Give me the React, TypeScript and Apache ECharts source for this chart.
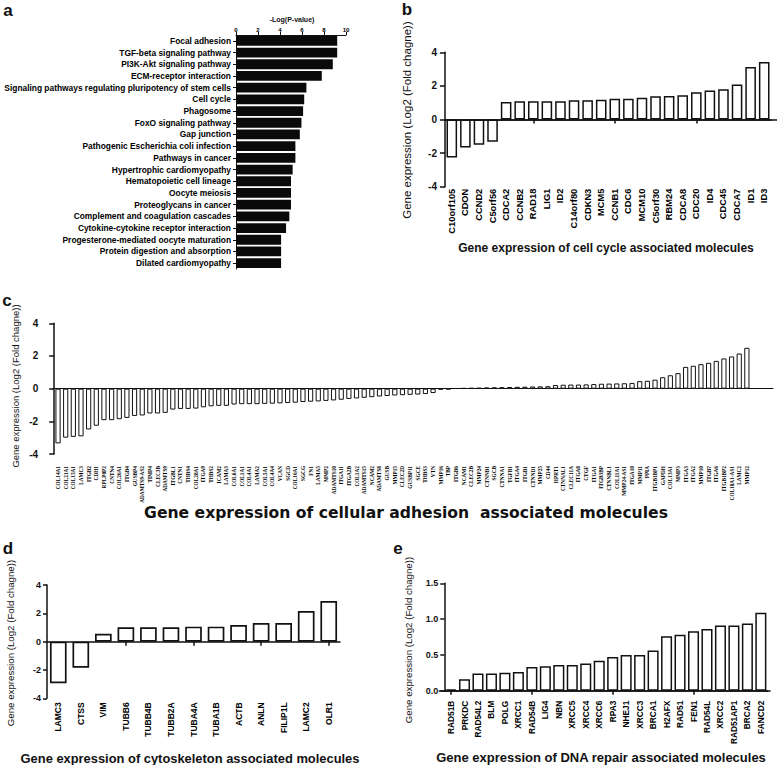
import React, { useEffect, useRef } from "react";
import * as echarts from "echarts";

const pathwayNames = [
  "Focal adhesion",
  "TGF-beta signaling pathway",
  "PI3K-Akt signaling pathway",
  "ECM-receptor interaction",
  "Signaling pathways regulating pluripotency of stem cells",
  "Cell cycle",
  "Phagosome",
  "FoxO signaling pathway",
  "Gap junction",
  "Pathogenic Escherichia coli infection",
  "Pathways in cancer",
  "Hypertrophic cardiomyopathy",
  "Hematopoietic cell lineage",
  "Oocyte meiosis",
  "Proteoglycans in cancer",
  "Complement and coagulation cascades",
  "Cytokine-cytokine receptor interaction",
  "Progesterone-mediated oocyte maturation",
  "Protein digestion and absorption",
  "Dilated cardiomyopathy",
];
const pathwayValues = [9.2, 9.2, 8.8, 7.8, 6.4, 6.2, 6.1, 5.95, 5.8, 5.4, 5.4, 5.15, 5.0, 5.0, 5.0, 4.85, 4.55, 4.1, 4.1, 4.1];
const pathwayTicks = [0, 2, 4, 6, 8, 10];

const cellCycleGenes = [
  "C10orf105", "CDON", "CCND2", "C5orf56", "CDCA2", "CCNB2", "RAD18", "LIG1", "ID2", "C14orf80", "CDKN3", "MCM5",
  "CCNB1", "CDC6", "MCM10", "C5orf30", "RBM24", "CDCA8", "CDC20", "ID4", "CDC45", "CDCA7", "ID1", "ID3",
];
const cellCycleValues = [
  -2.26, -1.66, -1.5, -1.32, 1.04, 1.08, 1.08, 1.08, 1.08, 1.14, 1.14, 1.18,
  1.24, 1.24, 1.3, 1.38, 1.4, 1.44, 1.62, 1.72, 1.8, 2.08, 3.13, 3.43,
];

const adhesionGenes = [
  "COL14A1", "COL21A1", "COL15A1", "LAMC3", "ITGB2", "CDH1", "RPLP0P2", "CNTN4", "COL26A1", "ITGB4",
  "GUSBP4", "ADAMTS9-AS2", "TIMP4", "CLEC3B", "ADAMTS9", "ITGBL1", "CNTN1", "THBS4", "COL28A1", "ITGA9",
  "THBS2", "ICAM2", "LAMA3", "COL6A1", "COL1A1", "COL4A1", "LAMA2", "COL5A1", "COL4A4", "VCAN",
  "SGCD", "COL16A1", "SGCG", "FN1", "LAMA5", "MMP2", "ADAMTS10", "ITGA11", "ITGA2B", "COL1A2",
  "ADAMTS15", "NCAM2", "ADAMTS8", "GUSB", "MMP15", "CLEC2D", "GUSBP11", "SGCE", "THBS3", "VTN",
  "MMP16", "TBP", "ITGB6", "NCAM1", "CLEC2B", "MMP24", "CTNNB1", "SGCB", "CTNNA1", "TGFB1",
  "ITGA4", "ITGB1", "CTNND1", "MMP25", "CD44", "HPRT1", "CTNNAL1", "CLEC11A", "ITGA8", "CTGF",
  "ITGA1", "ITGB3BP", "CTNNBL1", "COL11A1", "MMP24-AS1", "ITGA10", "MMP11", "PPIA", "ITGB1BP1", "GAPDH",
  "COL13A1", "MMP3", "ITGA3", "ITGA2", "MMP10", "ITGB7", "ITGA6", "ITGB1BP2", "COL18A1-AS1", "LAMC2", "MMP12",
];
const adhesionValues = [
  -3.35, -3.0, -2.95, -2.92, -2.5, -2.27, -1.93, -1.93, -1.87, -1.79,
  -1.67, -1.64, -1.52, -1.52, -1.48, -1.28, -1.24, -1.24, -1.22, -1.14,
  -1.08, -1.05, -1.05, -0.97, -0.95, -0.95, -0.95, -0.93, -0.92, -0.9,
  -0.88, -0.86, -0.82, -0.8, -0.78, -0.75, -0.72, -0.68, -0.63, -0.6,
  -0.56, -0.52, -0.48, -0.45, -0.42, -0.4, -0.38, -0.36, -0.33, -0.27,
  -0.06, -0.04, 0.02, 0.03, 0.04, 0.05, 0.07, 0.08, 0.09, 0.1,
  0.11, 0.12, 0.13, 0.14, 0.15, 0.22, 0.24, 0.25, 0.25, 0.26,
  0.28, 0.3, 0.31, 0.32, 0.33, 0.35, 0.46, 0.48, 0.55, 0.7,
  0.82, 0.95, 1.33, 1.4, 1.5, 1.58, 1.7, 1.85, 1.97, 2.15, 2.5,
];

const cytoGenes = ["LAMC3", "CTSS", "VIM", "TUBB6", "TUBB4B", "TUBB2A", "TUBA4A", "TUBA1B", "ACTB", "ANLN", "FILIP1L", "LAMC2", "OLR1"];
const cytoValues = [-2.94, -1.84, 0.56, 1.01, 1.01, 1.01, 1.06, 1.06, 1.18, 1.32, 1.32, 2.16, 2.87];

const dnaGenes = [
  "RAD51B", "PRKDC", "RAD54L2", "BLM", "POLG", "XRCC1", "RAD54B", "LIG4", "NBN", "XRCC5", "XRCC4", "XRCC6",
  "RPA3", "NHEJ1", "XRCC3", "BRCA1", "H2AFX", "RAD51", "FEN1", "RAD54L", "XRCC2", "RAD51AP1", "BRCA2", "FANCD2",
];
const dnaValues = [
  0.02, 0.16, 0.24, 0.24, 0.25, 0.26, 0.33, 0.34, 0.36, 0.36, 0.38, 0.42,
  0.47, 0.5, 0.5, 0.56, 0.76, 0.78, 0.83, 0.86, 0.91, 0.91, 0.94, 1.09,
];

const yTitle = "Gene expression (Log2 (Fold chagne))";
const titleB = "Gene expression of cell cycle associated molecules";
const titleC = "Gene expression of cellular adhesion  associated molecules";
const titleD = "Gene expression of cytoskeleton associated molecules";
const titleE = "Gene expression of DNA repair associated molecules";
const pathwayAxisTitle = "-Log(P-value)";

const SANS = "'Liberation Sans', Arial, Helvetica, sans-serif";
const WIDE = "'DejaVu Sans', Verdana, sans-serif";
const SERIF = "'Liberation Serif', 'Times New Roman', serif";
const INK = "#111111";

function yValueAxis(gridIndex: number, min: number, max: number, interval: number, fontSize: number, margin: number, tickLen: number, lw: number, formatter?: (v: number) => string) {
  return {
    gridIndex,
    type: "value",
    min,
    max,
    interval,
    axisLine: { show: true, onZero: false, lineStyle: { color: INK, width: lw } },
    axisTick: { show: true, length: tickLen, lineStyle: { color: INK, width: lw } },
    axisLabel: { color: INK, fontFamily: SANS, fontWeight: "bold", fontSize, margin, formatter },
    splitLine: { show: false },
  };
}
function hiddenY(gridIndex: number, min: number, max: number) {
  return { gridIndex, type: "value", min, max, show: false, splitLine: { show: false } };
}
function zeroAxis(gridIndex: number, data: string[], tick: boolean, lw: number) {
  return {
    gridIndex,
    type: "category",
    data,
    position: "bottom",
    axisLine: { show: true, onZero: true, lineStyle: { color: INK, width: lw } },
    axisTick: { show: tick, alignWithLabel: true, length: 4, lineStyle: { color: INK, width: lw } },
    axisLabel: { show: false },
    splitLine: { show: false },
  };
}
function labelAxis(gridIndex: number, data: string[], fontSize: number, margin: number, family: string, weight: string) {
  return {
    gridIndex,
    type: "category",
    data,
    position: "bottom",
    axisLine: { show: false, onZero: false },
    axisTick: { show: false },
    axisLabel: { color: "#000000", fontFamily: family, fontWeight: weight, fontSize, margin, rotate: 90, interval: 0 },
    splitLine: { show: false },
  };
}
function lineAxis(gridIndex: number, lw: number) {
  return {
    gridIndex,
    type: "value",
    min: 0,
    max: 1,
    position: "bottom",
    axisLine: { show: true, onZero: true, lineStyle: { color: INK, width: lw } },
    axisTick: { show: false },
    axisLabel: { show: false },
    splitLine: { show: false },
  };
}
function hollow(bw: number) {
  return { color: "#ffffff", borderColor: INK, borderWidth: bw };
}
function txt(text: string, x: number, y: number, fontSize: number, weight: string, rotation = 0, family = SANS) {
  return {
    type: "text",
    x,
    y,
    rotation,
    silent: true,
    style: {
      text,
      fontSize,
      fontWeight: weight,
      fontFamily: family,
      fill: INK,
      textAlign: "center",
      textVerticalAlign: "middle",
      align: "center",
      verticalAlign: "middle",
    },
  };
}

function buildOption() {
  const grids = [
    { left: 236, top: 35, width: 110, height: 234 }, // 0 a
    { left: 445, top: 52.3, width: 326, height: 134.4 }, // 1 b
    { left: 445, top: 52.3, width: 332, height: 134.4 }, // 2 b line
    { left: 54.2, top: 323.3, width: 696.5, height: 130.7 }, // 3 c
    { left: 53, top: 323.3, width: 720, height: 130.7 }, // 4 c line
    { left: 47, top: 585, width: 293, height: 113.3 }, // 5 d
    { left: 444.3, top: 583.3, width: 323.3, height: 107.4 }, // 6 e
    { left: 439.3, top: 583.3, width: 330.7, height: 107.4 }, // 7 e line
  ];
  const xAxes = [
    {
      gridIndex: 0,
      type: "value",
      position: "top",
      min: pathwayTicks[0],
      max: pathwayTicks[pathwayTicks.length - 1],
      interval: 2,
      axisLine: { show: true, lineStyle: { color: INK, width: 1 } },
      axisTick: { show: true, length: 3, lineStyle: { color: INK } },
      axisLabel: { color: "#000000", fontFamily: SANS, fontWeight: "bold", fontSize: 6, margin: 2 },
      splitLine: { show: false },
    },
    zeroAxis(1, cellCycleGenes, true, 1.5), // 1
    labelAxis(1, cellCycleGenes, 9.3, 2, SANS, "bold"), // 2
    lineAxis(2, 1.5), // 3
    zeroAxis(3, adhesionGenes, false, 1.2), // 4
    labelAxis(3, adhesionGenes, 5.3, 12, SERIF, "bold"), // 5
    lineAxis(4, 1.2), // 6
    zeroAxis(5, cytoGenes, true, 1.5), // 7
    labelAxis(5, cytoGenes, 8.5, 4, SANS, "bold"), // 8
    zeroAxis(6, dnaGenes, true, 1.5), // 9
    labelAxis(6, dnaGenes, 8.3, 10, SANS, "bold"), // 10
    lineAxis(7, 1.5), // 11
  ];
  const yAxes = [
    {
      gridIndex: 0,
      type: "category",
      data: pathwayNames,
      inverse: true,
      axisLine: { show: true, lineStyle: { color: INK, width: 1 } },
      axisTick: { show: true, length: 3, alignWithLabel: true, lineStyle: { color: INK } },
      axisLabel: { color: "#000000", fontFamily: SANS, fontWeight: "bold", fontSize: 8.4, margin: 5, interval: 0 },
      splitLine: { show: false },
    },
    yValueAxis(1, -4, 4, 2, 10, 8, 5, 1.5), // 1 b
    hiddenY(2, -4, 4), // 2 b line
    yValueAxis(3, -4, 4, 2, 10, 16, 5, 1.5), // 3 c
    hiddenY(4, -4, 4), // 4 c line
    yValueAxis(5, -4, 4, 2, 9, 6, 4, 1.5), // 5 d
    yValueAxis(6, 0, 1.5, 0.5, 9, 6, 4, 1.5, (v: number) => v.toFixed(1)), // 6 e
    hiddenY(7, 0, 1.5), // 7 e line
  ];
  const series = [
    {
      type: "bar",
      xAxisIndex: 0,
      yAxisIndex: 0,
      data: pathwayValues,
      barCategoryGap: "16%",
      itemStyle: { color: "#0a0a0a" },
    },
    { type: "bar", xAxisIndex: 1, yAxisIndex: 1, data: cellCycleValues, barCategoryGap: "22%", itemStyle: hollow(1.5) },
    { type: "bar", xAxisIndex: 4, yAxisIndex: 3, data: adhesionValues, barCategoryGap: "32%", itemStyle: hollow(1) },
    { type: "bar", xAxisIndex: 7, yAxisIndex: 5, data: cytoValues, barCategoryGap: "26%", itemStyle: hollow(1.7) },
    { type: "bar", xAxisIndex: 9, yAxisIndex: 6, data: dnaValues, barCategoryGap: "18%", itemStyle: hollow(1.5) },
  ];
  const graphic = [
    txt("a", 8, 10, 17, "bold"),
    txt("b", 407, 9, 17, "bold"),
    txt("c", 7, 300, 17, "bold"),
    txt("d", 8, 548, 17, "bold"),
    txt("e", 398, 548, 17, "bold"),
    txt(pathwayAxisTitle, 292, 19, 7, "bold"),
    txt(yTitle, 407, 120, 11.5, "normal", Math.PI / 2),
    txt(yTitle, 15, 386, 9.5, "normal", Math.PI / 2),
    txt(yTitle, 10, 643, 9.7, "normal", Math.PI / 2),
    txt(yTitle, 408, 640, 9.7, "normal", Math.PI / 2),
    txt(titleB, 606, 248, 12, "bold"),
    txt(titleC, 406, 513, 15.6, "bold", 0, WIDE),
    txt(titleD, 190, 758, 12.9, "bold"),
    txt(titleE, 601, 757, 13, "bold"),
  ];
  return {
    animation: false,
    backgroundColor: "#ffffff",
    textStyle: { fontFamily: SANS },
    grid: grids,
    xAxis: xAxes,
    yAxis: yAxes,
    series,
    graphic,
  };
}

export default function App() {
  const ref = useRef<HTMLDivElement>(null);
  useEffect(() => {
    document.body.style.margin = "0";
    const chart = echarts.init(ref.current as HTMLDivElement, null, { renderer: "svg" });
    chart.setOption(buildOption() as any);
    return () => chart.dispose();
  }, []);
  return <div ref={ref} style={{ width: 777, height: 765 }} />;
}
